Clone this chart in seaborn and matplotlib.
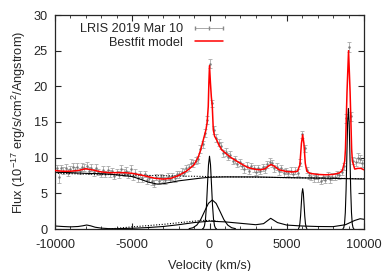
import matplotlib
matplotlib.use("Agg")
import matplotlib.pyplot as plt
from matplotlib.lines import Line2D
import seaborn as sns

# observed spectrum (LRIS 2019 Mar 10), velocity grid in km/s
vel_obs = [-9900, -9750, -9600, -9450, -9300, -9150, -9000, -8850, -8700, -8550,
           -8400, -8250, -8100, -7950, -7800, -7650, -7500, -7350, -7200, -7050,
           -6900, -6750, -6600, -6450, -6300, -6150, -6000, -5850, -5700, -5550,
           -5400, -5250, -5100, -4950, -4800, -4650, -4500, -4350, -4200, -4050,
           -3900, -3750, -3600, -3450, -3300, -3150, -3000, -2850, -2700, -2550,
           -2400, -2250, -2100, -1950, -1800, -1650, -1500, -1350, -1200, -1050,
           -900, -750, -600, -450, -300, -150, 0, 150, 300, 450,
           600, 750, 900, 1050, 1200, 1350, 1500, 1650, 1800, 1950,
           2100, 2250, 2400, 2550, 2700, 2850, 3000, 3150, 3300, 3450,
           3600, 3750, 3900, 4050, 4200, 4350, 4500, 4650, 4800, 4950,
           5100, 5250, 5400, 5550, 5700, 5850, 6000, 6150, 6300, 6450,
           6600, 6750, 6900, 7050, 7200, 7350, 7500, 7650, 7800, 7950,
           8100, 8250, 8400, 8550, 8700, 8850, 9000, 9150, 9300, 9450,
           9600, 9750, 9900]
flux_obs = [8.5, 7.3, 8.5, 8.2, 8.6, 7.9, 8.4, 8.7, 8.3, 8.7,
            8.15, 8.7, 8.6, 8.9, 8.2, 8.6, 7.95, 8.6, 8.0, 7.7,
            8.3, 7.75, 8.3, 7.8, 8.1, 7.5, 8.0, 7.6, 8.4, 7.9,
            8.2, 7.65, 8.4, 7.4, 7.9, 7.15, 7.7, 7.1, 7.75, 6.8,
            7.1, 6.7, 6.35, 7.3, 6.75, 7.25, 7.1, 6.85, 7.35, 7.0,
            7.4, 7.1, 7.7, 7.65, 8.05, 7.9, 8.5, 8.65, 9.25, 9.2,
            9.6, 9.8, 11.2, 11.9, 13.5, 15.3, 23.2, 17.6, 13.9, 12.75,
            12.1, 11.65, 10.6, 10.8, 10.15, 10.4, 9.55, 9.75, 9.1, 9.35,
            8.8, 8.4, 8.9, 8.2, 8.8, 8.5, 8.05, 8.5, 8.1, 8.65,
            8.35, 9.1, 9.45, 9.2, 8.5, 8.75, 8.1, 8.5, 7.85, 8.15,
            7.85, 8.2, 7.7, 8.15, 7.9, 9.3, 13.25, 11.3, 8.3, 7.55,
            7.35, 7.1, 7.45, 7.15, 6.75, 7.3, 6.9, 7.5, 7.0, 7.35,
            7.3, 7.75, 7.55, 8.0, 8.8, 15.5, 25.5, 15.8, 9.55, 9.4,
            10.0, 9.8, 9.2]
flux_err = [0.5, 0.9, 0.5, 0.45, 0.5, 0.45, 0.5, 0.5, 0.45, 0.5,
            0.45, 0.5, 0.45, 0.5, 0.45, 0.5, 0.45, 0.5, 0.45, 0.45,
            0.5, 0.45, 0.5, 0.45, 0.45, 0.5, 0.45, 0.5, 0.55, 0.45,
            0.5, 0.45, 0.55, 0.5, 0.45, 0.5, 0.45, 0.5, 0.45, 0.5,
            0.45, 0.5, 0.5, 0.45, 0.5, 0.45, 0.45, 0.5, 0.45, 0.45,
            0.5, 0.45, 0.5, 0.45, 0.5, 0.45, 0.5, 0.5, 0.55, 0.5,
            0.5, 0.5, 0.55, 0.5, 0.55, 0.55, 0.6, 0.55, 0.55, 0.5,
            0.5, 0.5, 0.45, 0.5, 0.45, 0.5, 0.45, 0.5, 0.45, 0.5,
            0.45, 0.5, 0.45, 0.5, 0.45, 0.5, 0.45, 0.5, 0.45, 0.5,
            0.45, 0.5, 0.5, 0.45, 0.5, 0.45, 0.5, 0.45, 0.5, 0.45,
            0.45, 0.5, 0.45, 0.5, 0.45, 0.5, 0.55, 0.5, 0.45, 0.5,
            0.45, 0.5, 0.45, 0.5, 0.5, 0.45, 0.5, 0.45, 0.5, 0.45,
            0.5, 0.45, 0.5, 0.45, 0.5, 0.6, 0.7, 0.6, 0.5, 0.55,
            0.6, 0.55, 0.5]

# best-fit model
vel_fit = [-10000, -9500, -9000, -8500, -8000, -7500, -7000, -6500, -6000, -5500,
           -5000, -4500, -4000, -3500, -3000, -2500, -2000, -1500, -1000, -725,
           -570, -400, -230, -150, -80, -40, 0, 60, 120, 180,
           245, 330, 465, 600, 790, 1000, 1330, 1700, 2000, 2500,
           3000, 3300, 3600, 3800, 3980, 4200, 4500, 5000, 5400, 5700,
           5850, 5950, 6030, 6110, 6200, 6300, 6500, 7000, 7500, 8000,
           8400, 8600, 8750, 8800, 8900, 9000, 9100, 9200, 9250, 9400,
           9600, 9800, 10000]
flux_fit = [8.2, 8.1, 8.1, 8.2, 8.45, 8.25, 8.0, 7.9, 7.9, 7.9,
            7.8, 7.6, 7.35, 7.1, 7.0, 7.1, 7.5, 8.1, 9.0, 10.1,
            11.1, 12.5, 13.9, 15.0, 17.2, 20.5, 22.9, 20.5, 18.5, 17.2,
            13.9, 13.0, 12.5, 11.8, 11.1, 10.7, 10.1, 9.6, 9.2, 8.6,
            8.35, 8.3, 8.45, 8.8, 9.05, 8.8, 8.3, 8.05, 8.0, 8.1,
            9.0, 12.0, 13.2, 12.0, 9.2, 8.1, 7.8, 7.65, 7.6, 7.65,
            7.85, 8.2, 9.5, 11.2, 19.2, 25.0, 19.2, 11.2, 9.5, 8.4,
            8.5, 8.5, 8.3]

# model components
vel_cont = [-10000, -9000, -8000, -7000, -6000, -5000, -4500, -4000, -3400, -3000,
            -2500, -2000, -1260, -500, 0, 1000, 3000, 5000, 8000, 10000]
flux_cont = [7.95, 7.9, 7.8, 7.75, 7.6, 7.35, 7.0, 6.6, 6.3, 6.35,
             6.55, 6.75, 6.95, 7.15, 7.25, 7.3, 7.3, 7.2, 7.1, 7.0]

vel_pl = [-10000, -5000, 0, 5000, 10000]
flux_pl = [7.8, 7.55, 7.35, 7.2, 7.05]

vel_low = [-10000, -9500, -9000, -8500, -8200, -7950, -7700, -7400, -7000, -6500,
           -6000, -5000, -4000, -3000, -2000, -1000, 0, 1000, 2000, 3000,
           3500, 3960, 4400, 5000, 6000, 7000, 8000, 8800, 9400, 9750, 10000]
flux_low = [0.42, 0.35, 0.3, 0.35, 0.45, 0.56, 0.45, 0.25, 0.12, 0.05,
            0.05, 0.1, 0.2, 0.35, 0.6, 0.9, 1.1, 1.0, 0.8, 0.6,
            0.75, 1.5, 0.9, 0.55, 0.42, 0.35, 0.33, 0.6, 1.2, 1.44, 1.36]

vel_wing = [-6500, -5000, -3000, -1000, -500, 0, 500]
flux_wing = [0.0, 0.3, 0.65, 1.1, 1.2, 1.2, 1.15]

vel_broad = [-1320, -1070, -820, -570, -320, -70, 180, 430, 680, 930, 1180, 1430, 1680]
flux_broad = [0.05, 0.18, 0.55, 1.32, 2.47, 3.59, 4.07, 3.59, 2.47, 1.32, 0.55, 0.18, 0.05]

vel_n0 = [-455, -390, -325, -260, -195, -130, -65, 0, 65, 130, 195, 260, 325, 390, 455]
flux_n0 = [0.02, 0.11, 0.45, 1.38, 3.31, 6.19, 9.0, 10.2, 9.0, 6.19, 3.31, 1.38, 0.45, 0.11, 0.02]

vel_n6 = [5760, 5805, 5850, 5895, 5940, 5985, 6030, 6075, 6120, 6165, 6210, 6255, 6300]
flux_n6 = [0.06, 0.25, 0.76, 1.83, 3.43, 4.99, 5.65, 4.99, 3.43, 1.83, 0.76, 0.25, 0.06]

vel_n9 = [8640, 8690, 8740, 8790, 8840, 8890, 8940, 8990, 9040, 9090, 9140, 9190, 9240, 9290, 9340]
flux_n9 = [0.04, 0.19, 0.74, 2.29, 5.48, 10.25, 14.9, 16.9, 14.9, 10.25, 5.48, 2.29, 0.74, 0.19, 0.04]

sns.set_style("ticks")
plt.rcParams['font.family'] = ['Liberation Sans', 'DejaVu Sans']
plt.rcParams['font.size'] = 9.2
plt.rcParams['axes.unicode_minus'] = False
plt.rcParams['mathtext.fontset'] = 'custom'
plt.rcParams['mathtext.rm'] = 'Liberation Sans'
plt.rcParams['mathtext.it'] = 'Liberation Sans:italic'

fig = plt.figure(figsize=(3.88, 2.71), dpi=100)
ax = fig.add_axes([55 / 388, 1 - 229 / 271, 309 / 388, 214 / 271])

ax.errorbar(vel_obs, flux_obs, yerr=flux_err, fmt='.', ms=1.5, color='#777777',
            ecolor='#a8a8a8', elinewidth=0.6, capsize=1.2, capthick=0.6, zorder=1)

comp_kw = dict(color='black', lw=0.8, estimator=None, sort=False, ax=ax, zorder=2)
sns.lineplot(x=vel_cont, y=flux_cont, **comp_kw)
sns.lineplot(x=vel_pl, y=flux_pl, linestyle=(0, (1, 1.5)), **comp_kw)
sns.lineplot(x=vel_low, y=flux_low, **comp_kw)
sns.lineplot(x=vel_wing, y=flux_wing, linestyle=(0, (1, 1.5)), **comp_kw)
sns.lineplot(x=vel_broad, y=flux_broad, **comp_kw)
sns.lineplot(x=vel_n0, y=flux_n0, **comp_kw)
sns.lineplot(x=vel_n6, y=flux_n6, **comp_kw)
sns.lineplot(x=vel_n9, y=flux_n9, **comp_kw)

sns.lineplot(x=vel_fit, y=flux_fit, color='red', lw=1.1, estimator=None, sort=False,
             ax=ax, zorder=3)

ax.set_xlim(-10000, 10000)
ax.set_ylim(0, 30)
ax.set_xticks([-10000, -5000, 0, 5000, 10000])
ax.set_xticks(range(-9000, 10000, 1000), minor=True)
ax.set_yticks([0, 5, 10, 15, 20, 25, 30])
ax.tick_params(which='major', direction='in', length=4, width=0.8, top=True, right=True,
               labelsize=9.2)
ax.tick_params(axis='x', which='major', pad=7)
ax.tick_params(axis='y', which='major', pad=5)
ax.tick_params(which='minor', direction='in', length=2, width=0.6, top=True, right=True)
for sp in ax.spines.values():
    sp.set_linewidth(0.9)

ax.set_xlabel('Velocity (km/s)', fontsize=9.2, labelpad=7)
ax.set_ylabel('Flux (10$^{-17}$ erg/s/cm$^2$/Angstrom)', fontsize=9.2, labelpad=4)

h_obs = Line2D([], [], color='#a8a8a8', lw=0.7, marker='|', ms=3, mec='#888888')
h_fit = Line2D([], [], color='red', lw=1.1)
ax.legend([h_obs, h_fit], ['LRIS 2019 Mar 10', 'Bestfit model'], loc='upper right',
          bbox_to_anchor=(233 / 388, 1 - 17 / 271), bbox_transform=fig.transFigure,
          frameon=False, markerfirst=False, numpoints=3, handlelength=2.8,
          handletextpad=0.6, labelspacing=0.1, borderpad=0, fontsize=9.2)

fig.savefig('out.png', dpi=100)
